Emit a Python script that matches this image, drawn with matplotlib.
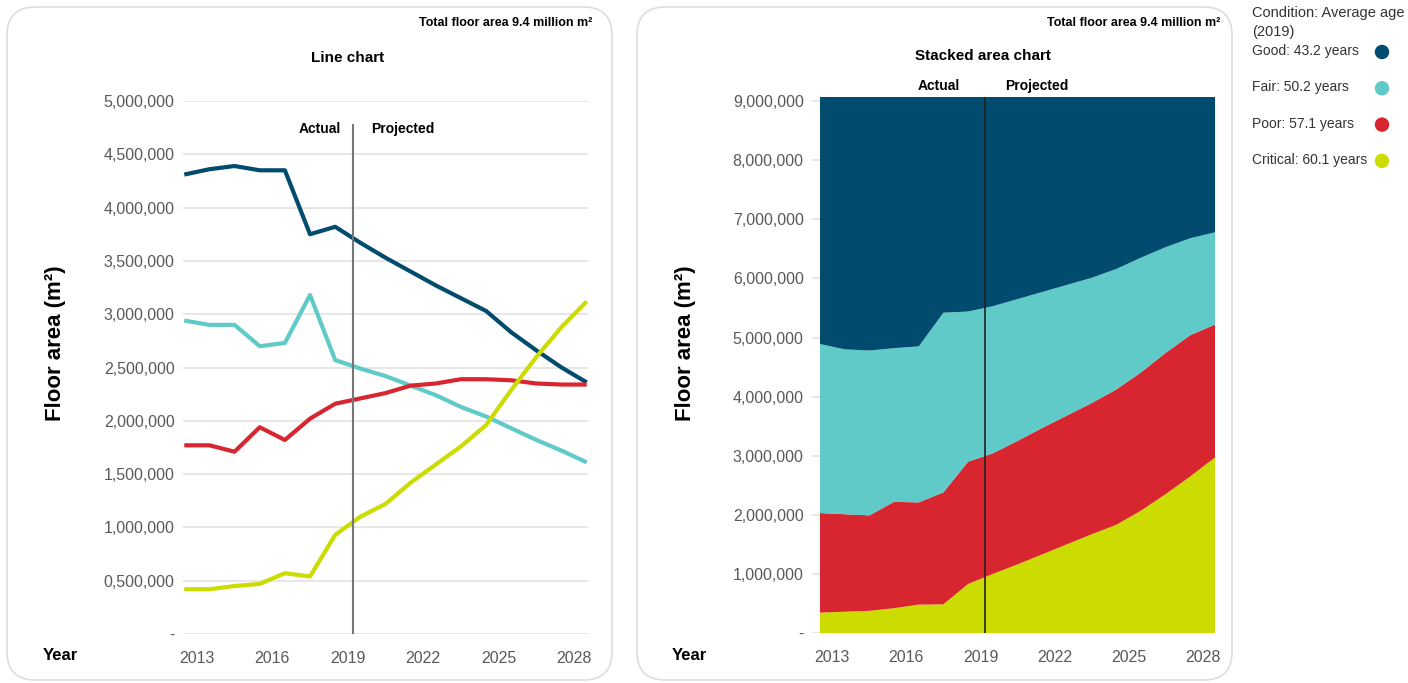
import numpy as np
import matplotlib
matplotlib.use("Agg")
import matplotlib.pyplot as plt
from matplotlib.patches import FancyBboxPatch, Ellipse

plt.rcParams['font.family'] = ['Liberation Sans', 'DejaVu Sans']

# data (financial years, plotted mid-year)
years = np.array([2012, 2013, 2014, 2015, 2016, 2017, 2018, 2019, 2020,
                  2021, 2022, 2023, 2024, 2025, 2026, 2027, 2028])
split_year = 2019.2

# line chart values (m2)
good = [4.31e6, 4.36e6, 4.39e6, 4.35e6, 4.35e6, 3.75e6, 3.82e6, 3.67e6, 3.53e6,
        3.40e6, 3.27e6, 3.15e6, 3.03e6, 2.83e6, 2.66e6, 2.50e6, 2.36e6]
fair = [2.94e6, 2.90e6, 2.90e6, 2.70e6, 2.73e6, 3.18e6, 2.57e6, 2.49e6, 2.42e6,
        2.33e6, 2.24e6, 2.13e6, 2.04e6, 1.93e6, 1.82e6, 1.72e6, 1.61e6]
poor = [1.77e6, 1.77e6, 1.71e6, 1.94e6, 1.82e6, 2.02e6, 2.16e6, 2.21e6, 2.26e6,
        2.33e6, 2.35e6, 2.39e6, 2.39e6, 2.38e6, 2.35e6, 2.34e6, 2.34e6]
critical = [0.42e6, 0.42e6, 0.45e6, 0.47e6, 0.57e6, 0.54e6, 0.93e6, 1.10e6, 1.22e6,
            1.42e6, 1.59e6, 1.76e6, 1.96e6, 2.29e6, 2.60e6, 2.88e6, 3.12e6]

# stacked area chart values (m2)
total_area = 9.4e6
st_critical = [0.345e6, 0.36e6, 0.375e6, 0.42e6, 0.48e6, 0.485e6, 0.83e6, 1.0e6, 1.16e6,
               1.33e6, 1.50e6, 1.67e6, 1.83e6, 2.07e6, 2.35e6, 2.65e6, 2.97e6]
st_poor = [1.685e6, 1.65e6, 1.615e6, 1.80e6, 1.73e6, 1.895e6, 2.07e6, 2.04e6, 2.09e6,
           2.14e6, 2.18e6, 2.22e6, 2.29e6, 2.34e6, 2.39e6, 2.39e6, 2.25e6]
st_fair = [2.86e6, 2.79e6, 2.79e6, 2.60e6, 2.64e6, 3.04e6, 2.54e6, 2.49e6, 2.40e6,
           2.30e6, 2.21e6, 2.12e6, 2.04e6, 1.94e6, 1.79e6, 1.64e6, 1.56e6]
st_good = [total_area - a - b - c for a, b, c in zip(st_critical, st_poor, st_fair)]

series_names = ['Good: 43.2 years', 'Fair: 50.2 years', 'Poor: 57.1 years', 'Critical: 60.1 years']
colors = ['#004B6E', '#5FCAC7', '#D7262F', '#CCDB00']

tick_years = [2013, 2016, 2019, 2022, 2025, 2028]
left_ticks = [0, 0.5e6, 1e6, 1.5e6, 2e6, 2.5e6, 3e6, 3.5e6, 4e6, 4.5e6, 5e6]
left_ticklabels = ['-', '0,500,000', '1,000,000', '1,500,000', '2,000,000', '2,500,000',
                   '3,000,000', '3,500,000', '4,000,000', '4,500,000', '5,000,000']
right_ticks = [0, 1e6, 2e6, 3e6, 4e6, 5e6, 6e6, 7e6, 8e6, 9e6]
right_ticklabels = ['-', '1,000,000', '2,000,000', '3,000,000', '4,000,000', '5,000,000',
                    '6,000,000', '7,000,000', '8,000,000', '9,000,000']

W, H = 1408, 683
fig = plt.figure(figsize=(W / 100, H / 100), dpi=100)


def fx(px):
    return px / W


def fy(py):
    return 1 - py / H


def box(x0, y0, x1, y1):
    p = FancyBboxPatch((fx(x0), fy(y1)), fx(x1 - x0), fy(y0) - fy(y1),
                       boxstyle="round,pad=0,rounding_size=0.02",
                       transform=fig.transFigure, facecolor='white',
                       edgecolor='#DDDDDD', linewidth=1.2, mutation_aspect=W / H,
                       zorder=-5)
    fig.patches.append(p)


box(7, 7, 612, 680)
box(637, 7, 1232, 680)

x = years + 0.5
tick_col = '#595959'

# ---- line chart
ax1 = fig.add_axes([fx(183), fy(634), fx(588 - 183), fy(101) - fy(634)])
ax1.patch.set_alpha(0)
for vals, c in zip([good, fair, poor, critical], colors):
    ax1.plot(x, vals, color=c, lw=3, solid_capstyle='butt', zorder=3)
ax1.set_xlim(2012.45, 2028.55)
ax1.set_ylim(0, 5e6)
ax1.set_yticks(left_ticks)
ax1.set_yticklabels(left_ticklabels)
ax1.axvline(split_year, ymax=0.955, color='#777777', lw=1.5, zorder=4)
ax1.text(split_year - 1.3, 4.74e6, 'Actual', ha='center', va='center', fontsize=10, fontweight='bold')
ax1.text(split_year + 2.0, 4.74e6, 'Projected', ha='center', va='center', fontsize=10, fontweight='bold')

# ---- stacked area chart (axes starts a little left of the area so gridline stubs show)
ax2 = fig.add_axes([fx(812), fy(633), fx(1215 - 812), fy(97) - fy(633)])
ax2.patch.set_alpha(0)
ax2.stackplot(x, st_critical, st_poor, st_fair, st_good,
              colors=colors[::-1], linewidth=0, zorder=2)
ax2.set_xlim(x[0] - 8 / 24.7, x[-1])
ax2.set_ylim(0, 9.07e6)
ax2.set_yticks(right_ticks)
ax2.set_yticklabels(right_ticklabels)
ax2.axvline(split_year, color='#222222', lw=1.2, zorder=4)
ax2.text(split_year - 1.9, 9.25e6, 'Actual', ha='center', va='center', fontsize=10,
         fontweight='bold', clip_on=False)
ax2.text(split_year + 2.1, 9.25e6, 'Projected', ha='center', va='center', fontsize=10,
         fontweight='bold', clip_on=False)

for ax in [ax1, ax2]:
    for s in ax.spines.values():
        s.set_visible(False)
    ax.grid(axis='y', color='#E3E3E3', lw=1.2, zorder=0)
    ax.set_xticks(tick_years)
    ax.set_xticklabels([str(t) for t in tick_years])
    ax.tick_params(axis='both', colors=tick_col, labelsize=11.5, length=0)
    ax.tick_params(axis='x', pad=12)
    ax.tick_params(axis='y', pad=6)
    ax.set_axisbelow(True)

# labels
for xl, xt, xr in [(55, 60, 592), (685, 689, 1220)]:
    fig.text(fx(xl), fy(343), 'Floor area (m²)', rotation=90, ha='center', va='center',
             fontsize=16, fontweight='bold')
    fig.text(fx(xt), fy(656), 'Year', ha='center', va='center', fontsize=12, fontweight='bold')
    fig.text(fx(xr), fy(23), 'Total floor area 9.4 million m²', ha='right', va='center',
             fontsize=9, fontweight='bold')
fig.text(fx(348), fy(58), 'Line chart', ha='center', va='center', fontsize=11, fontweight='bold')
fig.text(fx(983), fy(56), 'Stacked area chart', ha='center', va='center', fontsize=11,
         fontweight='bold')

# legend
leg_col = '#333333'
fig.text(fx(1252), fy(6), 'Condition: Average age\n(2019)', ha='left', va='top',
         fontsize=10.5, color=leg_col, linespacing=1.45)
for i, (name, c) in enumerate(zip(series_names, colors)):
    yy = 51 + i * 36.3
    fig.text(fx(1252), fy(yy), name, ha='left', va='center', fontsize=10, color=leg_col)
    fig.patches.append(Ellipse((fx(1382), fy(yy + 1)), fx(13), 13 / H,
                               transform=fig.transFigure, color=c))

fig.savefig('out.png', dpi=100)
